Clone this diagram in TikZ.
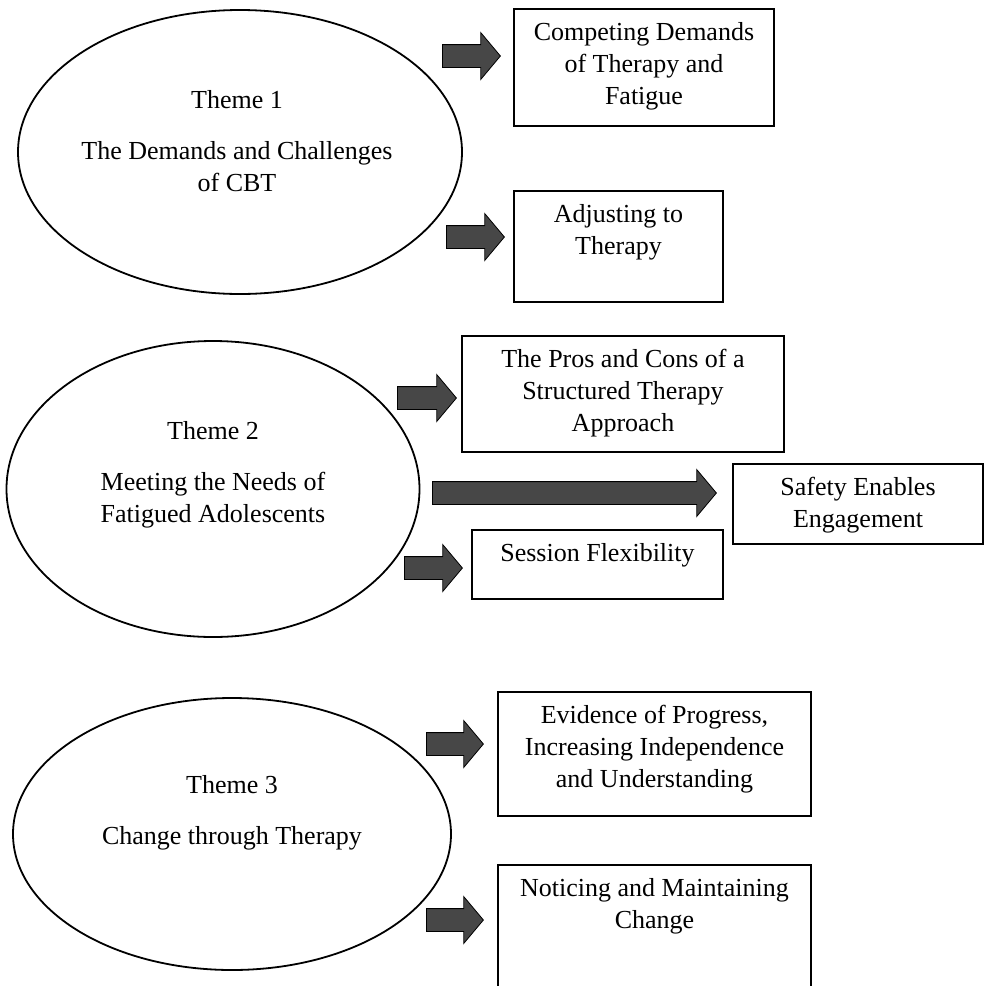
\documentclass[tikz,border=0pt]{standalone}
\usepackage{fontspec}
\setmainfont{Liberation Serif}
\usetikzlibrary{shapes.geometric,shapes.arrows,positioning}

\definecolor{arrowgray}{HTML}{474747}

\tikzset{
    theme node/.style={ellipse,draw,line width=1.8pt,inner sep=0},
    sub node/.style={rectangle,draw,line width=1.6pt,inner sep=0},
    label text/.style={align=center,inner sep=0,font=\fontsize{26}{32}\selectfont},
    block arrow/.style={single arrow,draw=black,fill=arrowgray,line width=0.8pt,inner xsep=0,inner ysep=11pt,
        single arrow head extend=12pt,single arrow tip angle=100,anchor=tail}
    }

\begin{document}
\begin{tikzpicture}[x=1pt,y=-1pt]
                \useasboundingbox (0,0) rectangle (984,986);
                % themes
                \node(e1)[theme node,minimum width=444pt,minimum height=284pt] at (240,152){};
                \node(e1t)[label text] at (237,141){Theme 1\\[19pt]The Demands and Challenges\\of CBT};
                \node(e2)[theme node,minimum width=413pt,minimum height=296pt] at (213,489){};
                \node(e2t)[label text] at (213,475){Theme 2\\[19pt]Meeting the Needs of\\Fatigued Adolescents};
                \node(e3)[theme node,minimum width=438pt,minimum height=272pt] at (232,834){};
                \node(e3t)[label text] at (232,813){Theme 3\\[19pt]Change through Therapy};
                % subthemes
                \node(b1)[sub node,minimum width=260pt,minimum height=117pt] at (644,67.5){};
                \node(b1t)[label text,below=14pt of b1.north]{Competing Demands\\of Therapy and\\Fatigue};
                \node(b2)[sub node,minimum width=209pt,minimum height=111pt] at (618.5,246.5){};
                \node(b2t)[label text,below=14pt of b2.north]{Adjusting to\\Therapy};
                \node(b3)[sub node,minimum width=322pt,minimum height=116pt] at (623,394){};
                \node(b3t)[label text,below=14pt of b3.north]{The Pros and Cons of a\\Structured Therapy\\Approach};
                \node(b4)[sub node,minimum width=250pt,minimum height=80pt] at (858,504){};
                \node(b4t)[label text,below=14pt of b4.north]{Safety Enables\\Engagement};
                \node(b5)[sub node,minimum width=251pt,minimum height=69pt] at (597.5,564.5){};
                \node(b5t)[label text,below=14pt of b5.north]{Session Flexibility};
                \node(b6)[sub node,minimum width=313pt,minimum height=124pt] at (654.5,754){};
                \node(b6t)[label text,below=14pt of b6.north]{Evidence of Progress,\\Increasing Independence\\and Understanding};
                \node(b7)[sub node,minimum width=313pt,minimum height=160pt] at (654.5,945){};
                \node(b7t)[label text,below=14pt of b7.north]{Noticing and Maintaining\\Change};
                % arrows
                \node(a1)[block arrow,minimum height=58pt] at (442,56){};
                \node(a2)[block arrow,minimum height=58pt] at (446,237){};
                \node(a3)[block arrow,minimum height=59pt] at (397,398){};
                \node(a4)[block arrow,minimum height=284pt] at (432,493){};
                \node(a5)[block arrow,minimum height=58pt] at (404,568){};
                \node(a6)[block arrow,minimum height=57pt] at (426,744){};
                \node(a7)[block arrow,minimum height=57pt] at (426,920){};
\end{tikzpicture}
\end{document}
